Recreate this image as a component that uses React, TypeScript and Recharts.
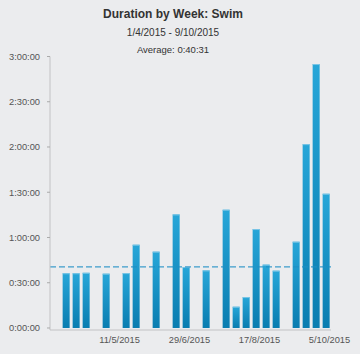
import React from 'react'
import { ComposedChart, Bar, XAxis, YAxis, ReferenceLine } from 'recharts'

// weeks start on the Wednesday of the range (d/m/yyyy)
const weekStarts = [
  '1/4/2015', '8/4/2015', '15/4/2015', '22/4/2015', '29/4/2015', '6/5/2015',
  '13/5/2015', '20/5/2015', '27/5/2015', '3/6/2015', '10/6/2015', '17/6/2015',
  '24/6/2015', '1/7/2015', '8/7/2015', '15/7/2015', '22/7/2015', '29/7/2015',
  '5/8/2015', '12/8/2015', '19/8/2015', '26/8/2015', '2/9/2015', '9/9/2015',
  '16/9/2015', '23/9/2015', '30/9/2015',
]

// swim duration per week, minutes
const swimMinutes = [
  36.3, 36.3, 36.6, null, 36, null, 36.4, 55.2, null, 50.6, null, 75.3,
  40.4, null, 38.2, null, 78.4, 14.1, 20.5, 65.6, 42, 38, null, 57.2,
  121.9, 175, 89,
]

const xTickDates = ['11/5/2015', '29/6/2015', '17/8/2015', '5/10/2015']
const yTicks = [0, 30, 60, 90, 120, 150, 180]
const averageMinutes = 40 + 31 / 60

const DAY = 864e5
const parseDate = (s: string) => {
  const [d, m, y] = s.split('/').map(Number)
  return Date.UTC(y, m - 1, d)
}

const data = weekStarts.map((w, i) => ({
  x: parseDate(w) + 3 * DAY,
  min: swimMinutes[i],
}))

const first = data[0].x
const xDomain = [first - 11.65 * DAY, first + 185.05 * DAY]
const xTicks = xTickDates.map(parseDate)

const fmtDur = (m: number) => {
  const h = Math.floor(m / 60)
  const mm = Math.round(m % 60)
  return `${h}:${String(mm).padStart(2, '0')}:00`
}

const fmtDate = (t: number) => {
  const d = new Date(t)
  return `${d.getUTCDate()}/${d.getUTCMonth() + 1}/${d.getUTCFullYear()}`
}

const BarShape = (props: any) => {
  const { x, y, width, height } = props
  if (!height || height <= 0) return null
  return (
    <g>
      <rect x={x} y={y} width={width} height={height} fill="url(#barGrad)" />
      <rect x={x} y={y} width={width} height={1} fill="#7cc6e6" />
    </g>
  )
}

const font = '"Liberation Sans", Arial, Helvetica, sans-serif'

export default function App() {
  return (
    <div
      style={{
        position: 'absolute',
        left: 0,
        top: 0,
        width: 360,
        height: 354,
        background: '#ebecee',
        fontFamily: font,
      }}
    >
      <div style={{ position: 'absolute', left: 0, width: 346, top: 7, textAlign: 'center', fontSize: 12, lineHeight: '14px', fontWeight: 'bold', color: '#333' }}>
        Duration by Week: Swim
      </div>
      <div style={{ position: 'absolute', left: 0, width: 346, top: 27, textAlign: 'center', fontSize: 10, lineHeight: '12px', color: '#333' }}>
        1/4/2015 - 9/10/2015
      </div>
      <div style={{ position: 'absolute', left: 0, width: 346, top: 44, textAlign: 'center', fontSize: 9.5, lineHeight: '12px', color: '#333' }}>
        Average: 0:40:31
      </div>
      <ComposedChart
        width={360}
        height={354}
        data={data}
        margin={{ top: 56.5, right: 29, bottom: 0, left: 0 }}
        style={{ position: 'absolute', left: 0, top: 0 }}
      >
        <defs>
          <linearGradient id="barGrad" x1="0" y1="0" x2="0" y2="1">
            <stop offset="0%" stopColor="#27a6d8" />
            <stop offset="100%" stopColor="#0a7db0" />
          </linearGradient>
        </defs>
        <XAxis
          dataKey="x"
          type="number"
          scale="linear"
          domain={xDomain}
          ticks={xTicks}
          interval={0}
          tickFormatter={fmtDate}
          height={24}
          tickLine={false}
          tickSize={0}
          tickMargin={6}
          axisLine={{ stroke: '#c2c2c4' }}
          tick={{ fontSize: 9.3, fill: '#555', fontFamily: font }}
          allowDataOverflow
        />
        <YAxis
          type="number"
          domain={[-1.33, 180]}
          ticks={yTicks}
          interval={0}
          tickFormatter={fmtDur}
          width={50}
          tickSize={3}
          tickMargin={7}
          tickLine={{ stroke: '#aaa' }}
          axisLine={{ stroke: '#c2c2c4' }}
          tick={{ fontSize: 9.3, fill: '#555', fontFamily: font }}
          allowDataOverflow
        />
        <Bar dataKey="min" barSize={7} shape={BarShape} isAnimationActive={false} />
        <ReferenceLine
          y={averageMinutes}
          stroke="#1f8fc6"
          strokeOpacity={0.85}
          strokeWidth={1.3}
          strokeDasharray="6 3"
        />
      </ComposedChart>
    </div>
  )
}
